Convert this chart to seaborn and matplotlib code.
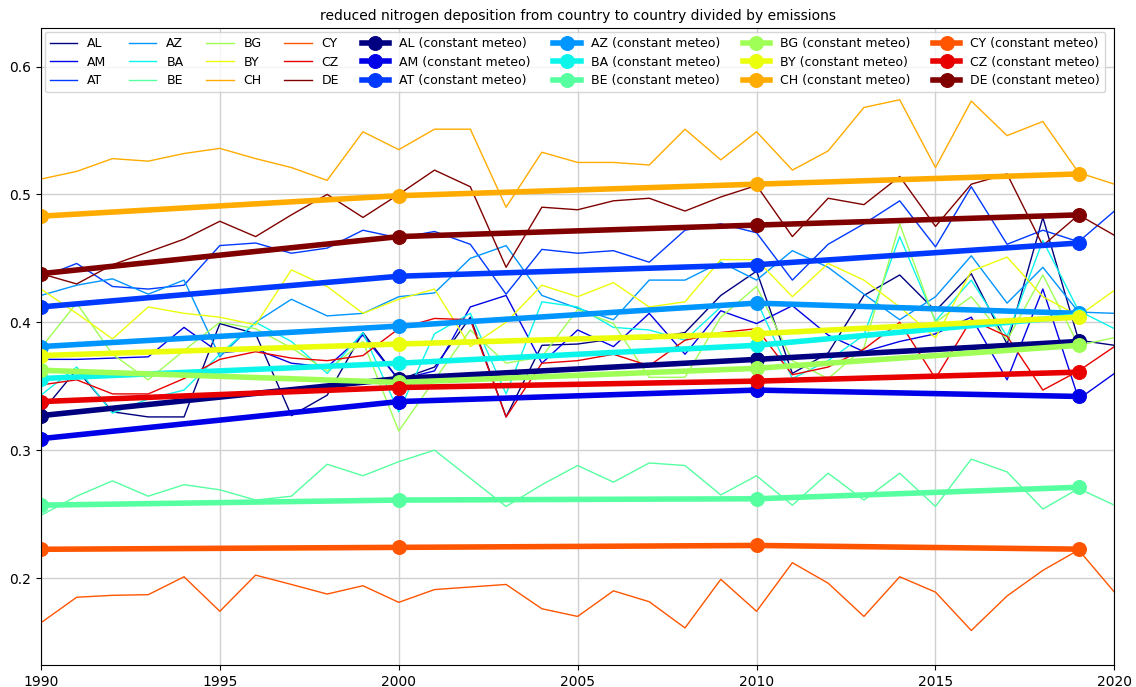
import numpy as np
import matplotlib
matplotlib.use("Agg")
import matplotlib.pyplot as plt
import seaborn as sns

# --- data ---
countries = ["AL", "AM", "AT", "AZ", "BA", "BE", "BG", "BY", "CH", "CY", "CZ", "DE"]
years = list(range(1990, 2021))
meteo_years = [1990, 2000, 2010, 2019]

AL = [0.329, 0.363, 0.330, 0.326, 0.326, 0.399, 0.391, 0.327, 0.343, 0.392, 0.355,
      0.365, 0.404, 0.326, 0.382, 0.383, 0.387, 0.387, 0.392, 0.421, 0.440,
      0.360, 0.376, 0.421, 0.437, 0.409, 0.438, 0.383, 0.482, 0.386, 0.382]
AM = [0.371, 0.371, 0.372, 0.373, 0.396, 0.376, 0.379, 0.368, 0.365, 0.390, 0.355,
      0.362, 0.412, 0.421, 0.368, 0.394, 0.381, 0.407, 0.375, 0.409, 0.399,
      0.413, 0.390, 0.377, 0.385, 0.391, 0.404, 0.355, 0.426, 0.340, 0.360]
AT = [0.435, 0.446, 0.428, 0.426, 0.429, 0.460, 0.462, 0.454, 0.458, 0.472, 0.466,
      0.471, 0.461, 0.422, 0.457, 0.454, 0.456, 0.447, 0.472, 0.477, 0.470,
      0.433, 0.461, 0.477, 0.495, 0.459, 0.506, 0.461, 0.472, 0.463, 0.487]
AZ = [0.421, 0.429, 0.434, 0.422, 0.433, 0.373, 0.400, 0.418, 0.405, 0.407, 0.420,
      0.423, 0.450, 0.460, 0.421, 0.411, 0.402, 0.433, 0.433, 0.447, 0.433,
      0.456, 0.443, 0.422, 0.402, 0.420, 0.452, 0.415, 0.443, 0.408, 0.407]
BA = [0.343, 0.365, 0.329, 0.340, 0.347, 0.375, 0.400, 0.385, 0.360, 0.392, 0.330,
      0.391, 0.407, 0.344, 0.416, 0.412, 0.396, 0.394, 0.386, 0.412, 0.417,
      0.356, 0.370, 0.390, 0.467, 0.401, 0.433, 0.389, 0.464, 0.409, 0.395]
BE = [0.249, 0.264, 0.276, 0.264, 0.273, 0.269, 0.261, 0.264, 0.289, 0.280, 0.291,
      0.300, 0.278, 0.256, 0.273, 0.288, 0.275, 0.290, 0.288, 0.265, 0.280,
      0.257, 0.282, 0.261, 0.282, 0.256, 0.293, 0.283, 0.254, 0.270, 0.257]
BG = [0.380, 0.415, 0.375, 0.355, 0.378, 0.400, 0.395, 0.380, 0.362, 0.385, 0.315,
      0.355, 0.394, 0.368, 0.373, 0.410, 0.399, 0.357, 0.357, 0.404, 0.428,
      0.370, 0.356, 0.380, 0.477, 0.400, 0.420, 0.386, 0.437, 0.382, 0.388]
BY = [0.426, 0.407, 0.387, 0.412, 0.407, 0.404, 0.398, 0.441, 0.428, 0.407, 0.418,
      0.426, 0.381, 0.400, 0.429, 0.420, 0.431, 0.412, 0.416, 0.449, 0.449,
      0.420, 0.446, 0.433, 0.412, 0.388, 0.440, 0.451, 0.420, 0.405, 0.425]
CH = [0.512, 0.518, 0.528, 0.526, 0.532, 0.536, 0.528, 0.521, 0.511, 0.549, 0.535,
      0.551, 0.551, 0.490, 0.533, 0.525, 0.525, 0.523, 0.551, 0.527, 0.549,
      0.519, 0.534, 0.568, 0.574, 0.521, 0.573, 0.546, 0.557, 0.517, 0.508]
CY = [0.165, 0.185, 0.1865, 0.187, 0.201, 0.174, 0.2023, 0.195, 0.1875, 0.194, 0.181,
      0.191, 0.193, 0.195, 0.176, 0.170, 0.190, 0.1815, 0.161, 0.199, 0.174,
      0.212, 0.196, 0.170, 0.201, 0.189, 0.159, 0.186, 0.206, 0.222, 0.189]
CZ = [0.351, 0.355, 0.344, 0.344, 0.356, 0.371, 0.377, 0.372, 0.370, 0.374, 0.395,
      0.403, 0.402, 0.326, 0.368, 0.370, 0.375, 0.366, 0.386, 0.392, 0.395,
      0.359, 0.365, 0.379, 0.400, 0.356, 0.402, 0.389, 0.347, 0.362, 0.381]
DE = [0.438, 0.430, 0.445, 0.455, 0.465, 0.479, 0.467, 0.484, 0.500, 0.482, 0.500,
      0.519, 0.506, 0.443, 0.490, 0.488, 0.495, 0.497, 0.487, 0.498, 0.507,
      0.467, 0.497, 0.492, 0.514, 0.475, 0.508, 0.516, 0.460, 0.484, 0.468]

# constant meteo runs (1990, 2000, 2010, 2019)
AL_cm = [0.327, 0.356, 0.371, 0.385]
AM_cm = [0.309, 0.338, 0.347, 0.342]
AT_cm = [0.412, 0.436, 0.445, 0.462]
AZ_cm = [0.381, 0.397, 0.415, 0.407]
BA_cm = [0.356, 0.368, 0.382, 0.405]
BE_cm = [0.257, 0.261, 0.262, 0.271]
BG_cm = [0.3625, 0.353, 0.364, 0.382]
BY_cm = [0.374, 0.383, 0.391, 0.404]
CH_cm = [0.483, 0.499, 0.508, 0.516]
CY_cm = [0.2225, 0.224, 0.2255, 0.2226]
CZ_cm = [0.338, 0.349, 0.354, 0.361]
DE_cm = [0.438, 0.467, 0.476, 0.484]

annual = [AL, AM, AT, AZ, BA, BE, BG, BY, CH, CY, CZ, DE]
constant = [AL_cm, AM_cm, AT_cm, AZ_cm, BA_cm, BE_cm, BG_cm, BY_cm, CH_cm, CY_cm, CZ_cm, DE_cm]

colors = plt.cm.jet(np.linspace(0, 1, len(countries)))

fig = plt.figure(figsize=(11.36, 6.87), dpi=100)
ax = fig.add_axes([0.036, 0.032, 0.945, 0.927])

for name, vals, c in zip(countries, annual, colors):
    sns.lineplot(x=years, y=vals, color=c, lw=1, label=name, ax=ax)

for name, vals, c in zip(countries, constant, colors):
    sns.lineplot(x=meteo_years, y=vals, color=c, lw=4, marker="o", markersize=10,
                 markeredgecolor=c, label=f"{name} (constant meteo)", ax=ax)

ax.set_xlim(1990, 2020)
ax.set_ylim(0.132, 0.63)
ax.set_xticks([1990, 1995, 2000, 2005, 2010, 2015, 2020])
ax.set_yticks([0.2, 0.3, 0.4, 0.5, 0.6])
ax.grid(True, color="#d0d0d0", lw=1)
ax.set_axisbelow(True)
ax.set_title("reduced nitrogen deposition from country to country divided by emissions", fontsize=10)
ax.tick_params(labelsize=10)
ax.legend(loc="upper left", ncol=8, fontsize=9, handlelength=2.2, columnspacing=1.8,
          borderaxespad=0.3, labelspacing=0.45)

fig.savefig("out.png", dpi=100)
